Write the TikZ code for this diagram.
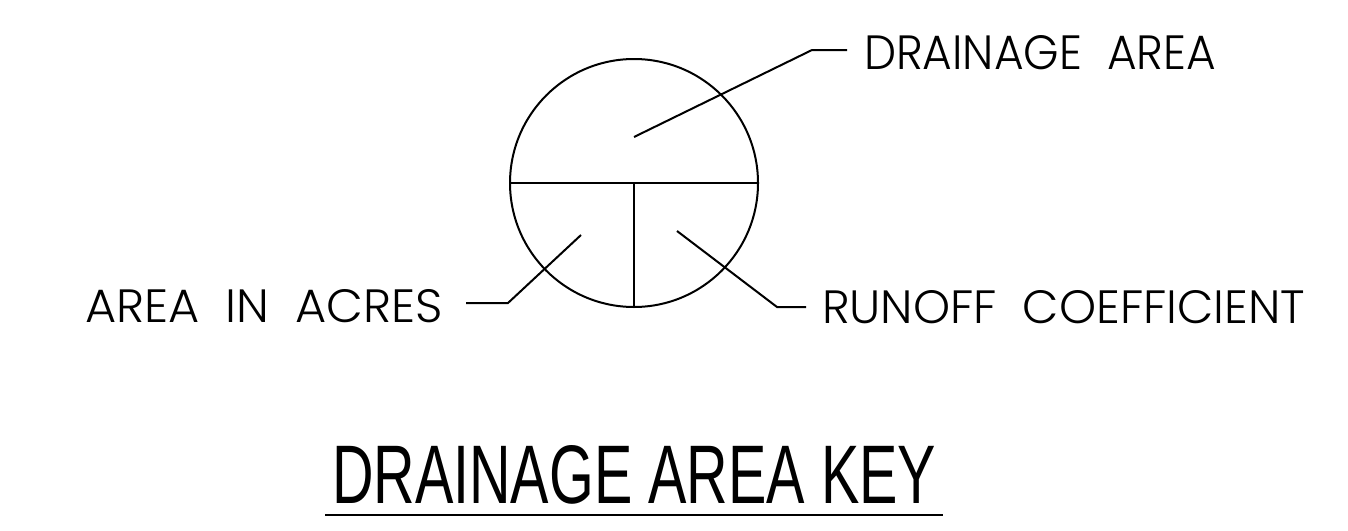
\documentclass[tikz,border=0pt]{standalone}
\usepackage{graphicx}
\usepackage{fontspec}
\setmainfont{Liberation Sans}
\IfFontExistsTF{Poppins Light}{\newfontfamily\lblfont{Poppins Light}}{\newfontfamily\lblfont{Poppins}}
\tikzset{
  lbl/.style={inner sep=0pt, outer sep=0pt, anchor=base west, font=\lblfont},
  ttl/.style={inner sep=0pt, outer sep=0pt, anchor=base west, font=\rmfamily},
  leader/.style={line width=2pt, line join=miter},
  keycircle/.style={circle, draw, line width=2pt, minimum size=248pt, inner sep=0pt}
}
\begin{document}
\begin{tikzpicture}[x=1pt,y=-1pt]
\useasboundingbox (0,0) rectangle (1348,530);
% circle key
\node[keycircle] (c) at (634,183) {};
\draw[line width=2pt] (c.west) -- (c.east);
\draw[line width=2pt] (c.center) -- (c.south);
% labels
\node[lbl] (dlab) at (864,69) {\resizebox{352pt}{34pt}{DRAINAGE\hspace{0.55em}AREA}};
\node[lbl] (alab) at (85,322) {\resizebox{358pt}{33pt}{AREA\hspace{0.55em}IN\hspace{0.55em}ACRES}};
\node[lbl] (rlab) at (822,323) {\resizebox{483pt}{33pt}{RUNOFF\hspace{0.55em}COEFFICIENT}};
% leader points
\coordinate (dtip) at (634,137);
\coordinate (dbend) at (812,50);
\coordinate (dend) at (847,50);
\coordinate (atip) at (581,235);
\coordinate (abend) at (508,303);
\coordinate (aend) at (466,303);
\coordinate (rtip) at (677,231);
\coordinate (rbend) at (777,307);
\coordinate (rend) at (806,307);
\draw[leader] (dtip) -- (dbend) -- (dend);
\draw[leader] (atip) -- (abend) -- (aend);
\draw[leader] (rtip) -- (rbend) -- (rend);
% title
\node[ttl] (title) at (332,503) {\resizebox{604pt}{58pt}{DRAINAGE AREA KEY}};
\coordinate (ulA) at (325,515);
\coordinate (ulB) at (943,515);
\draw[line width=2pt] (ulA) -- (ulB);
\end{tikzpicture}
\end{document}
